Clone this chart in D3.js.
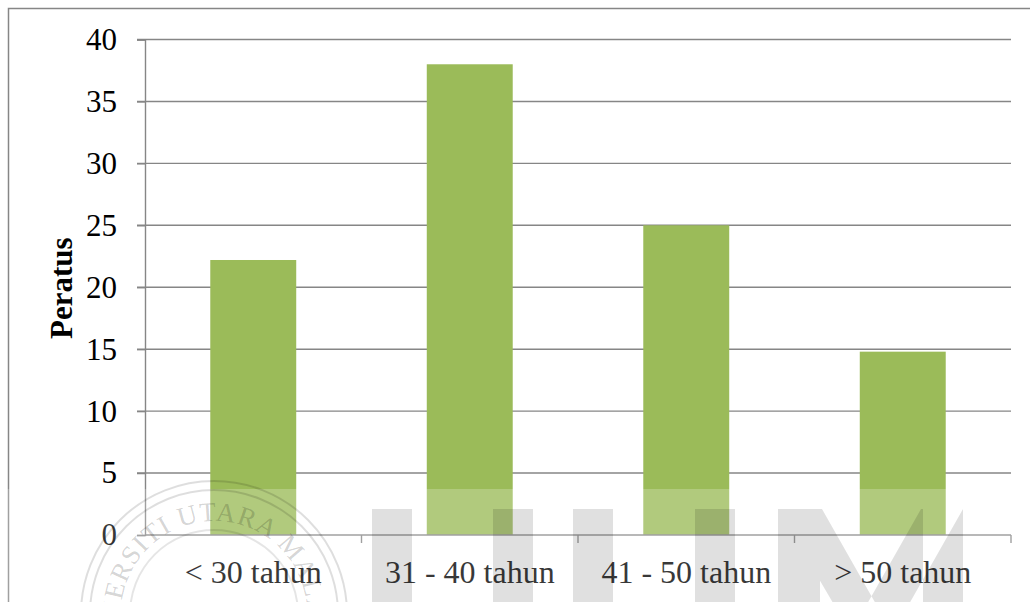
<!DOCTYPE html>
<html>
<head>
<meta charset="utf-8">
<script src="https://cdn.jsdelivr.net/npm/d3@7/dist/d3.min.js"></script>
<style>
  html, body { margin: 0; padding: 0; background: #fff; }
  svg { display: block; }
</style>
</head>
<body>
<svg id="svg1" width="1030" height="602"></svg>
<script>
// data
const categories = ["< 30 tahun", "31 - 40 tahun", "41 - 50 tahun", "> 50 tahun"];
const values = [22.2, 38, 25, 14.8];
const yTicks = [0, 5, 10, 15, 20, 25, 30, 35, 40];
const yLabel = "Peratus";
const watermarkText = "UNIVERSITI UTARA MALAYSIA";

const font = '"Liberation Serif", "Times New Roman", serif';
const svg = d3.select('#svg1');
const width = 1030, height = 602;
const margin = {top: 39.5, left: 145, right: 19, bottom: 67};
const plotBottom = height - margin.bottom; // 535
const plotRight = width - margin.right;    // 1011

// outer chart frame (runs past the right and bottom edge)
svg.append('rect')
  .attr('x', 8.5).attr('y', 8.5)
  .attr('width', 1040).attr('height', 620)
  .attr('fill', '#fff')
  .attr('stroke', '#868686')
  .attr('stroke-width', 1.5);

// scales
const x = d3.scaleBand().domain(categories).range([margin.left, plotRight]).padding(0);
const y = d3.scaleLinear().domain([0, 40]).range([plotBottom, margin.top]);

// gridlines
svg.append('g').selectAll('line')
  .data(yTicks.filter(d => d > 0))
  .enter().append('line')
  .attr('x1', margin.left - 8).attr('x2', plotRight)
  .attr('y1', d => y(d)).attr('y2', d => y(d))
  .attr('stroke', '#868686').attr('stroke-width', 1.4);

// bars
const barW = x.bandwidth() * 0.397;
svg.append('g').selectAll('rect')
  .data(categories)
  .enter().append('rect')
  .attr('x', d => x(d) + (x.bandwidth() - barW) / 2)
  .attr('width', barW)
  .attr('y', (d, i) => y(values[i]))
  .attr('height', (d, i) => y(0) - y(values[i]))
  .attr('fill', '#9BBB59');

// y axis
const yAxis = d3.axisLeft(y).tickValues(yTicks).tickSize(8).tickPadding(20);
const yAxisG = svg.append('g')
  .attr('transform', `translate(${margin.left},0)`)
  .call(yAxis);
yAxisG.select('.domain').attr('stroke', '#868686').attr('stroke-width', 1.4);
yAxisG.selectAll('.tick line').attr('stroke', '#868686').attr('stroke-width', 1.4);
yAxisG.selectAll('.tick text')
  .attr('fill', '#000')
  .style('font-family', font)
  .style('font-size', '31px');

// x axis: labels centred, ticks at category boundaries
const xAxis = d3.axisBottom(x).tickSize(0).tickPadding(25);
const xAxisG = svg.append('g')
  .attr('transform', `translate(0,${plotBottom})`)
  .call(xAxis);
xAxisG.select('.domain').remove();
xAxisG.selectAll('.tick text')
  .attr('fill', '#000')
  .style('font-family', font)
  .style('font-size', '32px');

svg.append('line')
  .attr('x1', margin.left).attr('x2', plotRight)
  .attr('y1', plotBottom).attr('y2', plotBottom)
  .attr('stroke', '#868686').attr('stroke-width', 1.4);

const bounds = categories.map(d => x(d) + x.bandwidth());
svg.append('g').selectAll('line')
  .data(bounds)
  .enter().append('line')
  .attr('x1', d => d).attr('x2', d => d)
  .attr('y1', plotBottom).attr('y2', plotBottom + 8)
  .attr('stroke', '#868686').attr('stroke-width', 1.4);

// y label
svg.append('text')
  .attr('transform', `translate(72,${(margin.top + plotBottom) / 2 + 1}) rotate(-90)`)
  .attr('text-anchor', 'middle')
  .style('font-family', font)
  .style('font-size', '31px')
  .style('font-weight', 'bold')
  .text(yLabel);

// watermark (faint logo over the bottom of the chart)
const wm = svg.append('g').attr('pointer-events', 'none');
wm.append('rect')
  .attr('x', 0).attr('y', 489).attr('width', width).attr('height', height - 489)
  .attr('fill', '#fff').attr('opacity', 0.22);

const cx = 214, cy = 614;
wm.append('circle').attr('cx', cx).attr('cy', cy).attr('r', 133)
  .attr('fill', 'none').attr('stroke', '#000').attr('stroke-opacity', 0.13).attr('stroke-width', 2);
wm.append('circle').attr('cx', cx).attr('cy', cy).attr('r', 124)
  .attr('fill', 'none').attr('stroke', '#000').attr('stroke-opacity', 0.13).attr('stroke-width', 2);
wm.append('circle').attr('cx', cx).attr('cy', cy).attr('r', 84)
  .attr('fill', 'none').attr('stroke', '#000').attr('stroke-opacity', 0.1).attr('stroke-width', 2);
wm.append('path')
  .attr('id', 'wmArc')
  .attr('d', `M${cx},${cy + 93} A93,93 0 0 1 ${cx},${cy - 93} A93,93 0 0 1 ${cx},${cy + 93}`)
  .attr('fill', 'none');
wm.append('text')
  .attr('fill', '#000').attr('fill-opacity', 0.18)
  .style('font-family', font)
  .style('font-size', '27px')
  .style('letter-spacing', '1px')
  .append('textPath')
  .attr('href', '#wmArc')
  .attr('startOffset', '51%')
  .attr('text-anchor', 'middle')
  .text(watermarkText);

// "UUM" letters
const letterPath = [
  'M372,509H412V620H372Z', 'M493,509H533V620H493Z',
  'M573,509H613V620H573Z', 'M695,509H735V620H695Z',
  'M778,509H820V620H778Z', 'M923,509H963V620H923Z',
  'M778,509H822L885,620H843Z', 'M963,509H921L858,620H900Z'
].join('');
wm.append('path')
  .attr('d', letterPath)
  .attr('fill', '#000').attr('fill-opacity', 0.12);
</script>
</body>
</html>
